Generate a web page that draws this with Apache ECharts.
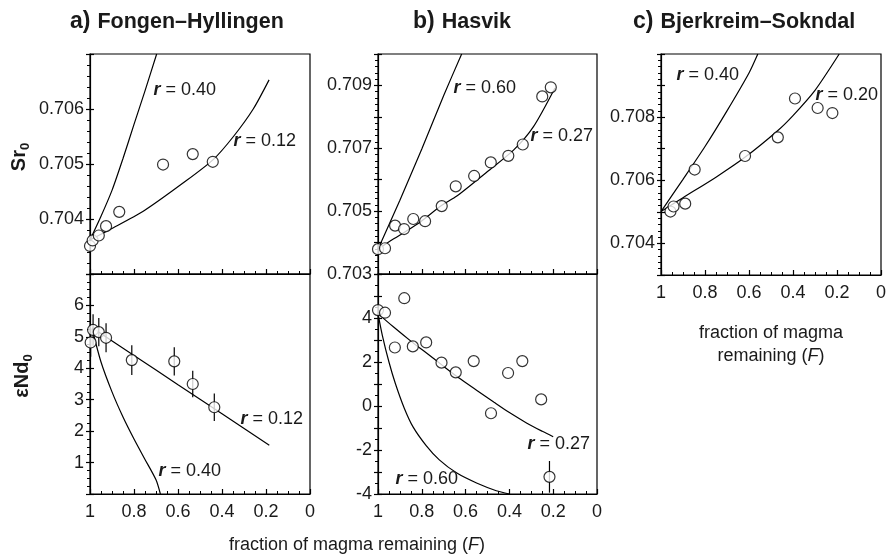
<!DOCTYPE html>
<html>
<head>
<meta charset="utf-8">
<script src="https://cdn.jsdelivr.net/npm/echarts@6/dist/echarts.min.js"></script>
<style>
html, body { margin: 0; padding: 0; background: #fff; }
#main { width: 887px; height: 555px; }
</style>
</head>
<body>
<div id="main"></div>
<script>
// a) Fongen-Hyllingen
const fhSrF = [1.0, 0.988, 0.96, 0.927, 0.867, 0.668, 0.533, 0.442];
const fhSr = [0.70351, 0.70361, 0.7037, 0.70387, 0.70413, 0.70499, 0.70518, 0.70504];
const fhSrR012F = [1.0, 0.909, 0.758, 0.568, 0.44, 0.348, 0.258, 0.186];
const fhSrR012 = [0.70362, 0.70381, 0.70414, 0.70468, 0.70508, 0.7055, 0.706, 0.70653];
const fhSrR040F = [1.0, 0.95, 0.9, 0.85, 0.8, 0.75, 0.697];
const fhSrR040 = [0.70362, 0.70405, 0.70452, 0.7051, 0.70572, 0.70633, 0.707];

const fhNdF = [0.997, 0.986, 0.96, 0.927, 0.81, 0.617, 0.533, 0.435];
const fhNd = [4.82, 5.22, 5.15, 4.97, 4.26, 4.22, 3.5, 2.76];
const fhNdErr = [0.45, 0.5, 0.45, 0.46, 0.47, 0.45, 0.42, 0.44];
const fhNdR012F = [0.99, 0.8, 0.6, 0.4, 0.185];
const fhNdR012 = [5.29, 4.41, 3.48, 2.55, 1.55];
const fhNdR040F = [0.99, 0.95, 0.9, 0.85, 0.8, 0.75, 0.7, 0.68];
const fhNdR040 = [5.25, 4.2, 3.25, 2.45, 1.75, 1.1, 0.45, 0.0];

// b) Hasvik
const hvSrF = [1.0, 0.968, 0.922, 0.881, 0.839, 0.785, 0.709, 0.645, 0.561, 0.485, 0.405, 0.339, 0.25, 0.211];
const hvSr = [0.70379, 0.70382, 0.70454, 0.70443, 0.70475, 0.70468, 0.70516, 0.70579, 0.70612, 0.70655, 0.70676, 0.70712, 0.70865, 0.70894];
const hvSrR027F = [1.0, 0.93, 0.82, 0.71, 0.64, 0.5, 0.38, 0.29, 0.192];
const hvSrR027 = [0.70379, 0.70411, 0.70459, 0.70518, 0.70548, 0.70626, 0.70695, 0.70769, 0.70892];
const hvSrR060F = [1.0, 0.9, 0.8, 0.7, 0.618];
const hvSrR060 = [0.70379, 0.70535, 0.70698, 0.70868, 0.71];

const hvNdF = [1.0, 0.968, 0.88, 0.923, 0.841, 0.78, 0.71, 0.645, 0.563, 0.484, 0.406, 0.341, 0.255, 0.217];
const hvNd = [4.36, 4.24, 4.9, 2.66, 2.71, 2.89, 1.97, 1.53, 2.04, -0.33, 1.5, 2.04, 0.3, -3.22];
const hvNdErrF = [0.217];
const hvNdErrV = [-3.22];
const hvNdErr = [0.72];
const hvNdR027F = [1.0, 0.93, 0.85, 0.78, 0.7, 0.63, 0.55, 0.47, 0.4, 0.32, 0.25, 0.2];
const hvNdR027 = [4.2, 3.6, 2.95, 2.42, 1.8, 1.27, 0.72, 0.17, -0.3, -0.78, -1.15, -1.4];
const hvNdR060F = [1.0, 0.98, 0.95, 0.92, 0.88, 0.84, 0.78, 0.72, 0.64, 0.55, 0.46, 0.4];
const hvNdR060 = [4.2, 3.2, 2.0, 1.0, -0.1, -0.95, -1.8, -2.45, -3.05, -3.5, -3.85, -4.0];

// c) Bjerkreim-Sokndal
const bsSrF = [0.957, 0.943, 0.89, 0.847, 0.618, 0.469, 0.391, 0.288, 0.221];
const bsSr = [0.70501, 0.70517, 0.70526, 0.70634, 0.70677, 0.70736, 0.70859, 0.70829, 0.70813];
const bsSrR020F = [1.0, 0.9, 0.75, 0.62, 0.47, 0.4, 0.3, 0.19];
const bsSrR020 = [0.70501, 0.70545, 0.7061, 0.70672, 0.70757, 0.70805, 0.70885, 0.71];
const bsSrR040F = [1.0, 0.9, 0.8, 0.7, 0.6, 0.56];
const bsSrR040 = [0.70501, 0.70603, 0.70707, 0.7082, 0.7094, 0.71];

const srTickLabels = [[0.704, 0.705, 0.706], [0.703, 0.705, 0.707, 0.709], [0.704, 0.706, 0.708]];
const ndTickLabels = [[1, 2, 3, 4, 5, 6], [-4, -2, 0, 2, 4]];

const font = 'Liberation Sans, Arial, Helvetica, sans-serif';
const ink = '#1a1a1a';

function zip(a, b) {
  return a.map((v, i) => [v, b[i]]);
}

function xAx(grid, showLabel) {
  return {
    type: 'value', gridIndex: grid, min: 0, max: 1, interval: 0.2, inverse: true,
    axisLine: { show: true, onZero: false, lineStyle: { color: '#000', width: 1.2 } },
    axisTick: { show: true, inside: true, length: 5, lineStyle: { color: '#000', width: 1.2 } },
    minorTick: { show: true, splitNumber: 4, length: 3, lineStyle: { color: '#000', width: 1 } },
    axisLabel: { show: showLabel, margin: 9, color: ink, fontSize: 18, fontFamily: font },
    splitLine: { show: false },
    minorSplitLine: { show: false }
  };
}

// main y axis: line, labels and the outer half of the major ticks
function yAx(grid, min, max, interval, labels, digits) {
  return {
    type: 'value', gridIndex: grid, min: min, max: max, interval: interval, position: 'left',
    axisLine: { show: true, onZero: false, lineStyle: { color: '#000', width: 1.2 } },
    axisTick: { show: true, inside: true, length: 4, lineStyle: { color: '#000', width: 1.2 } },
    minorTick: { show: false },
    axisLabel: {
      margin: 6, color: ink, fontSize: 18, fontFamily: font,
      showMinLabel: true, showMaxLabel: true,
      formatter: function (v) {
        return labels.some(l => Math.abs(l - v) < 1e-7) ? v.toFixed(digits) : '';
      }
    },
    splitLine: { show: false },
    minorSplitLine: { show: false }
  };
}

// overlay y axis on the same grid: inner half of major ticks + minor ticks
function yTicksIn(grid, min, max, interval, minorSplit) {
  return {
    type: 'value', gridIndex: grid, min: min, max: max, interval: interval, position: 'left',
    axisLine: { show: false, onZero: false },
    axisTick: { show: true, inside: false, length: 4, lineStyle: { color: '#000', width: 1.2 } },
    minorTick: { show: true, splitNumber: minorSplit, length: 3, lineStyle: { color: '#000', width: 1 } },
    axisLabel: { show: false },
    splitLine: { show: false },
    minorSplitLine: { show: false }
  };
}

function dots(idx, F, V) {
  return {
    type: 'scatter', xAxisIndex: idx, yAxisIndex: idx, data: zip(F, V),
    symbol: 'circle', symbolSize: 11, z: 5,
    itemStyle: { color: '#fff', borderColor: '#000', borderWidth: 1.2 }
  };
}

function curve(idx, F, V, r, at) {
  return {
    type: 'line', xAxisIndex: idx, yAxisIndex: idx, data: zip(F, V),
    showSymbol: false, symbol: 'none', smooth: 0.25, z: 2,
    lineStyle: { color: '#000', width: 1.2 },
    markPoint: {
      symbol: 'circle', symbolSize: 1, itemStyle: { color: 'rgba(0,0,0,0)' },
      data: [{ coord: at }],
      label: {
        show: true, position: 'right', distance: 0,
        formatter: '{r|r}{t| = ' + r + '}',
        rich: {
          r: { fontSize: 18, fontWeight: 'bold', fontStyle: 'italic', color: ink, fontFamily: font },
          t: { fontSize: 18, color: ink, fontFamily: font }
        }
      }
    }
  };
}

function errBars(idx, F, V, E) {
  return {
    type: 'custom', xAxisIndex: idx, yAxisIndex: idx, z: 3,
    data: F.map((f, i) => [f, V[i] - E[i], V[i] + E[i]]),
    renderItem: function (params, api) {
      const p1 = api.coord([api.value(0), api.value(1)]);
      const p2 = api.coord([api.value(0), api.value(2)]);
      return {
        type: 'line',
        shape: { x1: p1[0], y1: p1[1], x2: p2[0], y2: p2[1] },
        style: { stroke: '#000', lineWidth: 1.2 }
      };
    }
  };
}

function gridBox(left, top, width, height) {
  return {
    left: left, top: top, width: width, height: height,
    show: true, borderColor: '#000', borderWidth: 1.2,
    containLabel: false, outerBoundsMode: 'none'
  };
}

function titleText(x, tag, name) {
  return {
    type: 'text', x: x, y: 22,
    style: {
      text: '{a|' + tag + '}{t|' + name + '}', verticalAlign: 'middle', align: 'left',
      rich: {
        a: { fontSize: 23, fontWeight: 'bold', fill: ink, fontFamily: font, padding: [0, 7, 0, 0] },
        t: { fontSize: 21.5, fontWeight: 'bold', fill: ink, fontFamily: font }
      }
    }
  };
}

function axisName(x, y, main) {
  return {
    type: 'text', x: x, y: y, rotation: Math.PI / 2,
    style: {
      text: '{m|' + main + '}{s|0}', align: 'center', verticalAlign: 'middle',
      rich: {
        m: { fontSize: 20, fontWeight: 'bold', fill: ink, fontFamily: font, lineHeight: 26, verticalAlign: 'middle' },
        s: { fontSize: 13, fontWeight: 'bold', fill: ink, fontFamily: font, lineHeight: 26, verticalAlign: 'bottom' }
      }
    }
  };
}

const nameRich = {
  n: { fontSize: 18, fill: ink, fontFamily: font },
  i: { fontSize: 18, fontStyle: 'italic', fill: ink, fontFamily: font }
};

const chart = echarts.init(document.getElementById('main'));

const option = {
  animation: false,
  backgroundColor: '#fff',
  grid: [
    gridBox(90, 54, 220, 220),
    gridBox(90, 274, 220, 220),
    gridBox(378, 54, 219, 220),
    gridBox(378, 274, 219, 220),
    gridBox(661, 54, 220, 221)
  ],
  xAxis: [xAx(0, false), xAx(1, true), xAx(2, false), xAx(3, true), xAx(4, true)],
  yAxis: [
    yAx(0, 0.703, 0.707, 0.001, srTickLabels[0], 3),
    yAx(1, 0, 7, 1, ndTickLabels[0], 0),
    yAx(2, 0.703, 0.71, 0.001, srTickLabels[1], 3),
    yAx(3, -4, 6, 1, ndTickLabels[1], 0),
    yAx(4, 0.703, 0.71, 0.001, srTickLabels[2], 3),
    yTicksIn(0, 0.703, 0.707, 0.001, 5),
    yTicksIn(1, 0, 7, 1, 4),
    yTicksIn(2, 0.703, 0.71, 0.001, 5),
    yTicksIn(3, -4, 6, 1, 2),
    yTicksIn(4, 0.703, 0.71, 0.001, 5)
  ],
  series: [
    curve(0, fhSrR040F, fhSrR040, '0.40', [0.714, 0.70635]),
    curve(0, fhSrR012F, fhSrR012, '0.12', [0.35, 0.70542]),
    dots(0, fhSrF, fhSr),

    curve(1, fhNdR012F, fhNdR012, '0.12', [0.318, 2.4]),
    curve(1, fhNdR040F, fhNdR040, '0.40', [0.691, 0.72]),
    errBars(1, fhNdF, fhNd, fhNdErr),
    dots(1, fhNdF, fhNd),

    curve(2, hvSrR060F, hvSrR060, '0.60', [0.658, 0.70893]),
    curve(2, hvSrR027F, hvSrR027, '0.27', [0.306, 0.70738]),
    dots(2, hvSrF, hvSr),

    curve(3, hvNdR027F, hvNdR027, '0.27', [0.32, -1.72]),
    curve(3, hvNdR060F, hvNdR060, '0.60', [0.922, -3.3]),
    errBars(3, hvNdErrF, hvNdErrV, hvNdErr),
    dots(3, hvNdF, hvNd),

    curve(4, bsSrR040F, bsSrR040, '0.40', [0.932, 0.70932]),
    curve(4, bsSrR020F, bsSrR020, '0.20', [0.3, 0.70871]),
    dots(4, bsSrF, bsSr)
  ],
  graphic: [
    titleText(70, 'a)', 'Fongen–Hyllingen'),
    titleText(413, 'b)', 'Hasvik'),
    titleText(633, 'c)', 'Bjerkreim–Sokndal'),
    axisName(19, 157, 'Sr'),
    axisName(22, 376, 'εNd'),
    {
      type: 'text', x: 357, y: 545,
      style: { text: '{n|fraction of magma remaining (}{i|F}{n|)}', align: 'center', verticalAlign: 'middle', rich: nameRich }
    },
    {
      type: 'text', x: 771, y: 333,
      style: { text: '{n|fraction of magma}', align: 'center', verticalAlign: 'middle', rich: nameRich }
    },
    {
      type: 'text', x: 771, y: 356,
      style: { text: '{n|remaining (}{i|F}{n|)}', align: 'center', verticalAlign: 'middle', rich: nameRich }
    }
  ]
};

chart.setOption(option);
</script>
</body>
</html>
